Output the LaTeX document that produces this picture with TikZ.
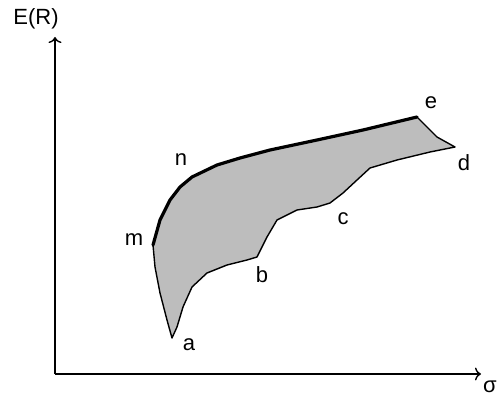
\documentclass[tikz,border=0pt]{standalone}
\usepackage{fontspec}
\setmainfont{Liberation Sans}
\usetikzlibrary{arrows.meta}

\begin{document}
\begin{tikzpicture}[x=1pt, y=-1pt,
    lbl/.style={font=\fontsize{22}{26}\selectfont, inner sep=0pt},
    axis/.style={line width=1.3pt, -{To[length=6pt, width=13pt, line width=1.4pt]}},
    rim/.style={line width=1.4pt, line join=round},
    edge/.style={line width=3.2pt, line cap=round, line join=round}]
\useasboundingbox (0,0) rectangle (498,396);

% axes
\coordinate (o) at (55,374);
\coordinate (ytop) at (55,37);
\coordinate (xend) at (481,374);
\draw[axis] (o) -- (ytop);
\draw[axis] (o) -- (xend);
\node[lbl] (ER) at (36,19) {E(R)};
\node[lbl] (sig) at (490,387) {σ};

% corner points of the set
\coordinate (a) at (172,338);
\coordinate (m) at (153,245);
\coordinate (n) at (192,177);
\coordinate (e) at (417,117);
\coordinate (d) at (455,147);
\coordinate (c) at (330,203);
\coordinate (b) at (257,257);

% feasible set
\draw[rim, fill=gray!52] (a) -- (167,320) -- (160,293) -- (155,267) -- (m)
    -- (160,220) -- (170,200) -- (180,187) -- (n)
    -- (217,165) -- (240,158) -- (270,150) -- (317,140) -- (363,130) -- (e)
    -- (423,123) -- (437,137) -- (d)
    -- (430,152) -- (397,160) -- (370,168) -- (357,180) -- (343,193) -- (c)
    -- (317,207) -- (297,210) -- (277,220) -- (267,237) -- (b)
    -- (247,260) -- (227,265) -- (207,273) -- (192,287) -- (183,307) -- (177,327) -- cycle;

% efficient frontier
\draw[edge] (m) -- (160,220) -- (170,200) -- (180,187) -- (n)
    -- (217,165) -- (240,158) -- (270,150) -- (317,140) -- (363,130) -- (e);

% labels
\node[lbl] (la) at (189,345) {a};
\node[lbl] (lb) at (262,275) {b};
\node[lbl] (lc) at (343,219) {c};
\node[lbl] (ld) at (464,163) {d};
\node[lbl] (le) at (431,103) {e};
\node[lbl] (lm) at (134,240) {m};
\node[lbl] (ln) at (181,160) {n};
\end{tikzpicture}
\end{document}
